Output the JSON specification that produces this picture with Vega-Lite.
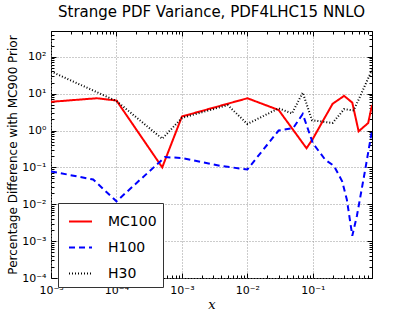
{
  "$schema": "https://vega.github.io/schema/vega-lite/v6.json",
  "width": 321,
  "height": 247,
  "autosize": "none",
  "padding": {"left": 51, "top": 31, "right": 41, "bottom": 32},
  "background": "white",
  "title": {"text": "Strange PDF Variance, PDF4LHC15 NNLO", "font": "DejaVu Sans", "fontSize": 15, "fontWeight": "normal", "offset": 5, "color": "black"},
  "config": {
    "view": {"stroke": "black", "strokeWidth": 1},
    "axis": {"labelFont": "DejaVu Sans", "labelFontSize": 11, "labelColor": "black", "titleFont": "DejaVu Sans", "titleFontWeight": "normal", "titleColor": "black", "domain": false, "tickColor": "black", "gridColor": "#999", "gridDash": [1, 2], "gridWidth": 1, "labelFlush": false, "labelOverlap": false}
  },
  "data": {"values": [
    {"s": "MC100", "x": 1e-5, "y": 6.0},
    {"s": "MC100", "x": 5e-5, "y": 7.5},
    {"s": "MC100", "x": 1e-4, "y": 6.5},
    {"s": "MC100", "x": 5e-4, "y": 0.1},
    {"s": "MC100", "x": 1e-3, "y": 2.4},
    {"s": "MC100", "x": 1e-2, "y": 7.5},
    {"s": "MC100", "x": 0.03, "y": 3.6},
    {"s": "MC100", "x": 0.08, "y": 0.33},
    {"s": "MC100", "x": 0.1, "y": 0.6},
    {"s": "MC100", "x": 0.2, "y": 5.3},
    {"s": "MC100", "x": 0.3, "y": 8.7},
    {"s": "MC100", "x": 0.4, "y": 5.7},
    {"s": "MC100", "x": 0.5, "y": 0.95},
    {"s": "MC100", "x": 0.7, "y": 1.6},
    {"s": "MC100", "x": 0.8, "y": 4.9},
    {"s": "H100", "x": 1e-5, "y": 0.078},
    {"s": "H100", "x": 4.4e-5, "y": 0.047},
    {"s": "H100", "x": 1e-4, "y": 0.012},
    {"s": "H100", "x": 5.5e-4, "y": 0.19},
    {"s": "H100", "x": 1e-3, "y": 0.18},
    {"s": "H100", "x": 0.0038, "y": 0.11},
    {"s": "H100", "x": 0.01, "y": 0.088},
    {"s": "H100", "x": 0.03, "y": 1.0},
    {"s": "H100", "x": 0.05, "y": 1.16},
    {"s": "H100", "x": 0.07, "y": 2.8},
    {"s": "H100", "x": 0.1, "y": 0.45},
    {"s": "H100", "x": 0.155, "y": 0.16},
    {"s": "H100", "x": 0.21, "y": 0.11},
    {"s": "H100", "x": 0.28, "y": 0.042},
    {"s": "H100", "x": 0.33, "y": 0.0135},
    {"s": "H100", "x": 0.4, "y": 0.0014},
    {"s": "H100", "x": 0.47, "y": 0.0048},
    {"s": "H100", "x": 0.63, "y": 0.087},
    {"s": "H100", "x": 0.8, "y": 1.0},
    {"s": "H30", "x": 1e-5, "y": 40},
    {"s": "H30", "x": 1e-4, "y": 6.3},
    {"s": "H30", "x": 5e-4, "y": 0.6},
    {"s": "H30", "x": 1e-3, "y": 2.2},
    {"s": "H30", "x": 0.005, "y": 4.9},
    {"s": "H30", "x": 0.01, "y": 1.5},
    {"s": "H30", "x": 0.03, "y": 4.0},
    {"s": "H30", "x": 0.048, "y": 2.9},
    {"s": "H30", "x": 0.07, "y": 10.7},
    {"s": "H30", "x": 0.097, "y": 1.9},
    {"s": "H30", "x": 0.2, "y": 1.6},
    {"s": "H30", "x": 0.3, "y": 3.8},
    {"s": "H30", "x": 0.42, "y": 3.5},
    {"s": "H30", "x": 0.8, "y": 44}
  ]},
  "layer": [
    {
      "mark": {"type": "line", "clip": true},
      "encoding": {
        "x": {"field": "x", "type": "quantitative",
          "scale": {"type": "log", "domain": [1e-5, 0.8], "nice": false},
          "axis": {"title": "x", "titleFont": "DejaVu Serif", "titleFontStyle": "italic", "titleFontSize": 13, "titlePadding": 1,
            "values": [1e-5,2e-5,3e-5,4e-5,5e-5,6e-5,7e-5,8e-5,9e-5,1e-4,2e-4,3e-4,4e-4,5e-4,6e-4,7e-4,8e-4,9e-4,1e-3,2e-3,3e-3,4e-3,5e-3,6e-3,7e-3,8e-3,9e-3,0.01,0.02,0.03,0.04,0.05,0.06,0.07,0.08,0.09,0.1,0.2,0.3,0.4,0.5,0.6,0.7,0.8],
            "labelExpr": "abs(log(datum.value)/LN10 - round(log(datum.value)/LN10)) < 1e-6 ? ['10⁻⁵','10⁻⁴','10⁻³','10⁻²','10⁻¹','10⁰','10¹','10²','10³'][round(log(datum.value)/LN10)+5] : ''",
            "tickSize": {"condition": {"test": "abs(log(datum.value)/LN10 - round(log(datum.value)/LN10)) < 1e-6", "value": -5}, "value": -3},
            "gridOpacity": {"condition": {"test": "abs(log(datum.value)/LN10 - round(log(datum.value)/LN10)) < 1e-6", "value": 1}, "value": 0},
            "labelPadding": 11}},
        "y": {"field": "y", "type": "quantitative",
          "scale": {"type": "log", "domain": [1e-4, 500], "nice": false},
          "axis": {"title": "Percentage Difference with MC900 Prior", "titleFontSize": 12, "titlePadding": 2,
            "values": [1e-4,2e-4,3e-4,4e-4,5e-4,6e-4,7e-4,8e-4,9e-4,1e-3,2e-3,3e-3,4e-3,5e-3,6e-3,7e-3,8e-3,9e-3,0.01,0.02,0.03,0.04,0.05,0.06,0.07,0.08,0.09,0.1,0.2,0.3,0.4,0.5,0.6,0.7,0.8,0.9,1,2,3,4,5,6,7,8,9,10,20,30,40,50,60,70,80,90,100,200,300,400,500],
            "labelExpr": "abs(log(datum.value)/LN10 - round(log(datum.value)/LN10)) < 1e-6 ? ['10⁻⁵','10⁻⁴','10⁻³','10⁻²','10⁻¹','10⁰','10¹','10²','10³'][round(log(datum.value)/LN10)+5] : ''",
            "tickSize": {"condition": {"test": "abs(log(datum.value)/LN10 - round(log(datum.value)/LN10)) < 1e-6", "value": -5}, "value": -3},
            "gridOpacity": {"condition": {"test": "abs(log(datum.value)/LN10 - round(log(datum.value)/LN10)) < 1e-6", "value": 1}, "value": 0},
            "labelPadding": 10}},
        "color": {"field": "s", "type": "nominal",
          "scale": {"domain": ["MC100", "H100", "H30"], "range": ["#ff0000", "#0000ff", "#000000"]},
          "legend": {"title": null, "orient": "none", "legendX": 7, "legendY": 172, "fillColor": "white", "strokeColor": "#333", "padding": 6, "symbolOffset": 4, "labelFont": "DejaVu Sans", "labelFontSize": 14, "labelColor": "black", "symbolType": "stroke", "symbolSize": 529, "symbolStrokeWidth": 2, "labelOffset": 15, "rowPadding": 6, "cornerRadius": 0}},
        "strokeDash": {"field": "s", "type": "nominal",
          "scale": {"domain": ["MC100", "H100", "H30"], "range": [[1, 0], [6, 4], [1, 2]]},
          "legend": {"title": null, "orient": "none", "legendX": 7, "legendY": 172, "fillColor": "white", "strokeColor": "#333", "padding": 6, "symbolOffset": 4, "labelFont": "DejaVu Sans", "labelFontSize": 14, "labelColor": "black", "symbolType": "stroke", "symbolSize": 529, "symbolStrokeWidth": 2, "labelOffset": 15, "rowPadding": 6, "cornerRadius": 0}},
        "strokeWidth": {"field": "s", "type": "nominal",
          "scale": {"domain": ["MC100", "H100", "H30"], "range": [2, 2, 1]},
          "legend": null}
      }
    },
    {
      "mark": {"type": "line", "opacity": 0, "clip": true},
      "encoding": {
        "detail": {"field": "s", "type": "nominal"},
        "x": {"field": "x", "type": "quantitative",
          "axis": {"orient": "top", "title": null, "labels": false, "grid": false,
            "values": [1e-5,2e-5,3e-5,4e-5,5e-5,6e-5,7e-5,8e-5,9e-5,1e-4,2e-4,3e-4,4e-4,5e-4,6e-4,7e-4,8e-4,9e-4,1e-3,2e-3,3e-3,4e-3,5e-3,6e-3,7e-3,8e-3,9e-3,0.01,0.02,0.03,0.04,0.05,0.06,0.07,0.08,0.09,0.1,0.2,0.3,0.4,0.5,0.6,0.7,0.8],
            "tickSize": {"condition": {"test": "abs(log(datum.value)/LN10 - round(log(datum.value)/LN10)) < 1e-6", "value": -5}, "value": -3}}},
        "y": {"field": "y", "type": "quantitative",
          "axis": {"orient": "right", "title": null, "labels": false, "grid": false,
            "values": [1e-4,2e-4,3e-4,4e-4,5e-4,6e-4,7e-4,8e-4,9e-4,1e-3,2e-3,3e-3,4e-3,5e-3,6e-3,7e-3,8e-3,9e-3,0.01,0.02,0.03,0.04,0.05,0.06,0.07,0.08,0.09,0.1,0.2,0.3,0.4,0.5,0.6,0.7,0.8,0.9,1,2,3,4,5,6,7,8,9,10,20,30,40,50,60,70,80,90,100,200,300,400,500],
            "tickSize": {"condition": {"test": "abs(log(datum.value)/LN10 - round(log(datum.value)/LN10)) < 1e-6", "value": -5}, "value": -3}}}
      }
    }
  ],
  "resolve": {"axis": {"x": "independent", "y": "independent"}}
}
